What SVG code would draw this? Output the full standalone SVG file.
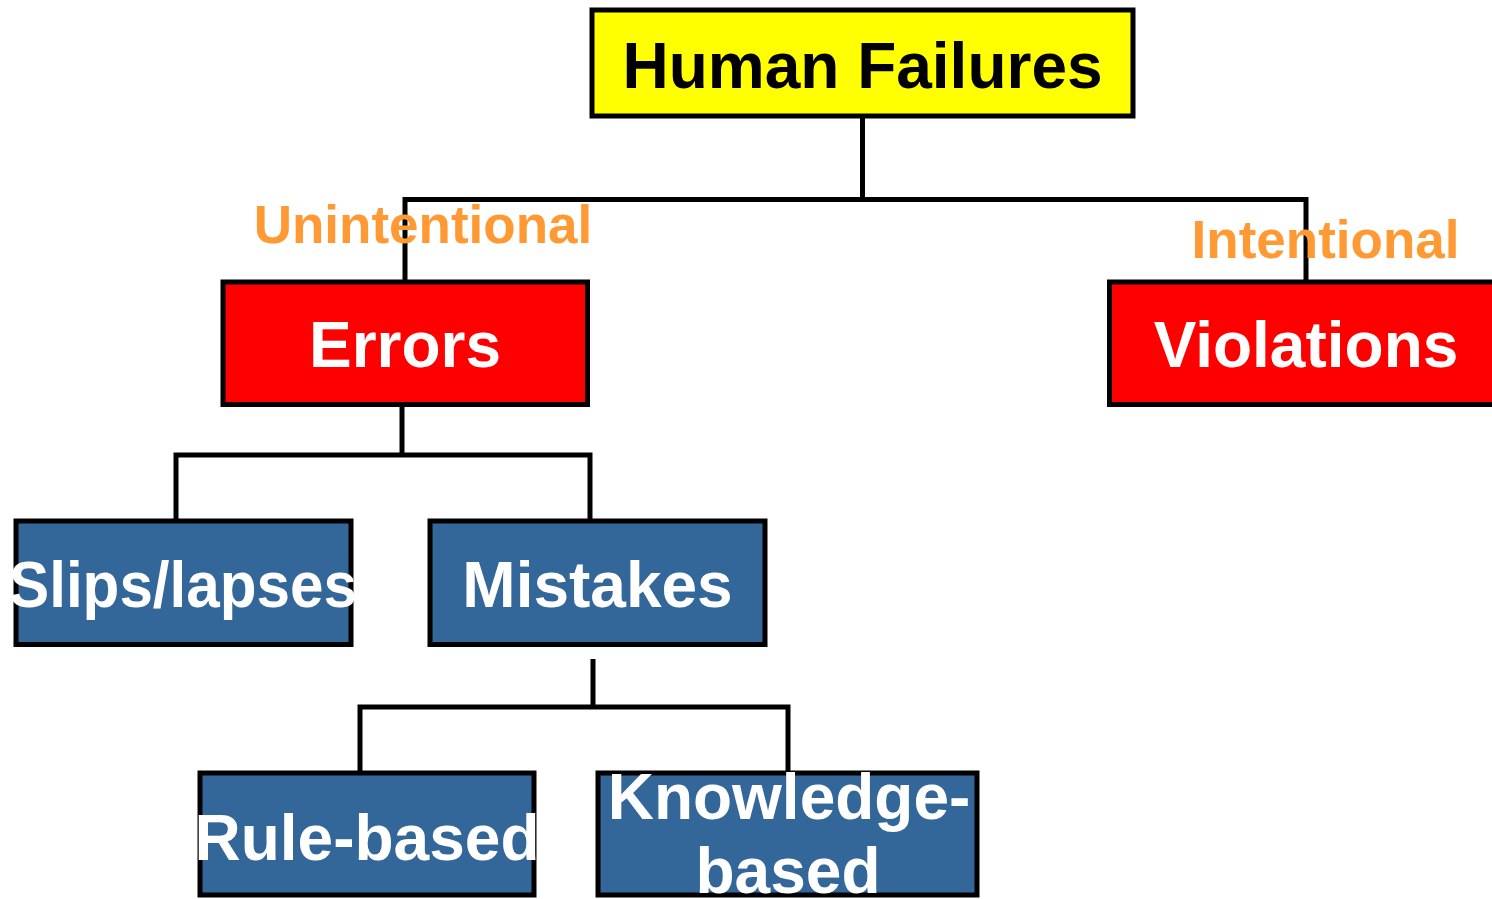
<svg xmlns="http://www.w3.org/2000/svg" width="1492" height="899" viewBox="0 0 1492 899">
<style>
.box{stroke:#000;stroke-width:5}
.y{fill:#FFFF00}
.r{fill:#FF0000}
.b{fill:#336699}
.t{font-family:"Liberation Sans",Arial,sans-serif;font-weight:bold;font-size:64px;text-anchor:middle}
.w{fill:#FFFFFF}
.k{fill:#000000}
.o{fill:#FF9933;font-family:"Liberation Sans",Arial,sans-serif;font-weight:bold;font-size:53px;text-anchor:middle}
.c{fill:none;stroke:#000;stroke-width:5}
</style>
<rect width="1492" height="899" fill="#FFFFFF"/>
<g id="connectors">
<path class="c" d="M862.5,116 V199.5 M405,283 V199.5 H1306 V283"/>
<path class="c" d="M402,405 V455 M176,521 V455 H590 V521"/>
<path class="c" d="M593,659 V707 M360,773 V707 H788 V773"/>
</g>
<g id="human-failures">
<rect class="box y" x="592" y="10" width="541" height="106"/>
<text class="t k" x="862.5" y="88">Human Failures</text>
</g>
<g id="label-unintentional">
<text class="o" x="423" y="243">Unintentional</text>
</g>
<g id="label-intentional">
<text class="o" x="1325.5" y="258">Intentional</text>
</g>
<g id="errors">
<rect class="box r" x="223" y="282" width="364.5" height="122.5"/>
<text class="t w" x="405" y="367">Errors</text>
</g>
<g id="violations">
<rect class="box r" x="1109.5" y="282" width="400" height="122.5"/>
<text class="t w" x="1306" y="367">Violations</text>
</g>
<g id="slips-lapses">
<rect class="box b" x="16" y="521" width="335" height="123.5"/>
<text class="t w" x="183" y="607" textLength="348" lengthAdjust="spacingAndGlyphs">Slips/lapses</text>
</g>
<g id="mistakes">
<rect class="box b" x="430" y="521" width="335" height="123.5"/>
<text class="t w" x="597.5" y="607">Mistakes</text>
</g>
<g id="rule-based">
<rect class="box b" x="200" y="773" width="334" height="122"/>
<text class="t w" x="367" y="860">Rule-based</text>
</g>
<g id="knowledge-based">
<rect class="box b" x="598" y="773" width="379" height="122"/>
<text class="t w" x="789" y="819">Knowledge-</text>
<text class="t w" x="788" y="893">based</text>
</g>
</svg>
